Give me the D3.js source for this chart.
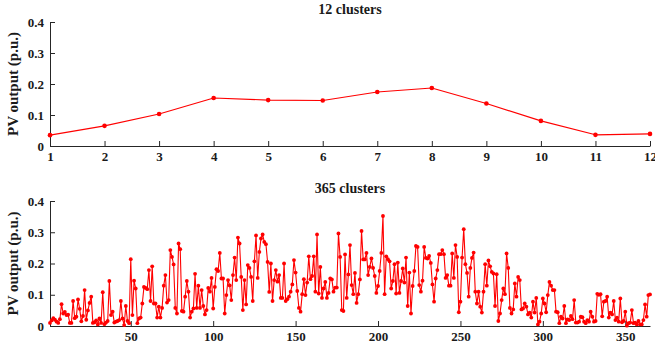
<!DOCTYPE html>
<html>
<head>
<meta charset="utf-8">
<script src="https://cdn.jsdelivr.net/npm/d3@7/dist/d3.min.js"></script>
<style>
  html, body { margin: 0; padding: 0; background: #fff; }
  svg { display: block; }
  text { font-family: "Liberation Serif", "Times New Roman", serif; font-weight: bold; fill: #1a1a1a; }
</style>
</head>
<body>
<svg id="chart" width="655" height="354"></svg>
<script>
// Monthly representative days (12 clusters)
const monthClusters = [1, 2, 3, 4, 5, 6, 7, 8, 9, 10, 11, 12];
const monthOutput = [0.035, 0.065, 0.103, 0.155, 0.148, 0.147, 0.174, 0.187, 0.137, 0.081, 0.036, 0.039];

// Daily values (365 clusters)
const dayOutput = [
  0.010, 0.018, 0.025, 0.020, 0.014, 0.010, 0.022, 0.070, 0.040, 0.045,
  0.035, 0.036, 0.010, 0.010, 0.080, 0.025, 0.030, 0.085, 0.055, 0.015,
  0.032, 0.115, 0.020, 0.050, 0.074, 0.094, 0.010, 0.012, 0.018, 0.005,
  0.024, 0.010, 0.108, 0.006, 0.011, 0.016, 0.144, 0.035, 0.046, 0.011,
  0.014, 0.016, 0.019, 0.080, 0.024, 0.003, 0.064, 0.016, 0.009, 0.214,
  0.035, 0.145, 0.120, 0.009, 0.024, 0.027, 0.072, 0.125, 0.122, 0.118,
  0.179, 0.080, 0.191, 0.072, 0.072, 0.027, 0.062, 0.027, 0.058, 0.129,
  0.163, 0.075, 0.083, 0.243, 0.221, 0.197, 0.058, 0.040, 0.264, 0.246,
  0.048, 0.046, 0.094, 0.144, 0.110, 0.027, 0.046, 0.056, 0.167, 0.058,
  0.129, 0.058, 0.115, 0.064, 0.037, 0.051, 0.122, 0.110, 0.154, 0.056,
  0.125, 0.182, 0.176, 0.234, 0.152, 0.152, 0.040, 0.099, 0.147, 0.130,
  0.083, 0.163, 0.219, 0.147, 0.283, 0.264, 0.157, 0.051, 0.147, 0.069,
  0.195, 0.186, 0.157, 0.080, 0.207, 0.290, 0.154, 0.237, 0.280, 0.293,
  0.269, 0.262, 0.205, 0.109, 0.200, 0.080, 0.147, 0.179, 0.142, 0.163,
  0.090, 0.090, 0.200, 0.080, 0.086, 0.094, 0.110, 0.133, 0.211, 0.171,
  0.112, 0.058, 0.046, 0.102, 0.150, 0.099, 0.139, 0.223, 0.150, 0.160,
  0.223, 0.110, 0.293, 0.104, 0.189, 0.090, 0.120, 0.141, 0.090, 0.106,
  0.152, 0.149, 0.110, 0.123, 0.123, 0.296, 0.221, 0.051, 0.048, 0.229,
  0.090, 0.165, 0.259, 0.131, 0.102, 0.170, 0.074, 0.102, 0.149, 0.304,
  0.213, 0.213, 0.234, 0.163, 0.189, 0.216, 0.186, 0.160, 0.106, 0.128,
  0.176, 0.234, 0.352, 0.102, 0.223, 0.214, 0.207, 0.120, 0.144, 0.198,
  0.104, 0.203, 0.106, 0.144, 0.184, 0.139, 0.219, 0.064, 0.171, 0.040,
  0.128, 0.176, 0.256, 0.253, 0.131, 0.110, 0.145, 0.253, 0.218, 0.216,
  0.224, 0.202, 0.133, 0.078, 0.152, 0.179, 0.230, 0.230, 0.243, 0.230,
  0.154, 0.163, 0.129, 0.129, 0.232, 0.154, 0.259, 0.221, 0.044, 0.078,
  0.219, 0.310, 0.198, 0.170, 0.094, 0.186, 0.218, 0.235, 0.110, 0.072,
  0.110, 0.062, 0.043, 0.110, 0.198, 0.129, 0.210, 0.191, 0.173, 0.168,
  0.064, 0.166, 0.016, 0.040, 0.083, 0.120, 0.102, 0.232, 0.186, 0.058,
  0.040, 0.053, 0.136, 0.094, 0.157, 0.147, 0.053, 0.056, 0.072, 0.062,
  0.037, 0.043, 0.027, 0.078, 0.043, 0.090, 0.005, 0.014, 0.040, 0.088,
  0.072, 0.044, 0.099, 0.141, 0.129, 0.115, 0.115, 0.046, 0.044, 0.009,
  0.030, 0.024, 0.064, 0.009, 0.021, 0.019, 0.032, 0.022, 0.083, 0.011,
  0.011, 0.014, 0.030, 0.028, 0.014, 0.009, 0.019, 0.014, 0.046, 0.030,
  0.014, 0.016, 0.103, 0.100, 0.102, 0.031, 0.078, 0.080, 0.094, 0.027,
  0.043, 0.037, 0.080, 0.019, 0.027, 0.014, 0.088, 0.012, 0.016, 0.046,
  0.001, 0.009, 0.011, 0.051, 0.009, 0.011, 0.005, 0.016, 0.005, 0.005,
  0.019, 0.069, 0.030, 0.099, 0.101
];
const dayClusters = dayOutput.map((_, i) => i + 1);

const yTicks = [0, 0.1, 0.2, 0.3, 0.4];
const dayTicks = [50, 100, 150, 200, 250, 300, 350];

const svg = d3.select("#chart");
const lineColor = "#ff0000";
const axisColor = "#262626";

function drawPanel({ top, bottom, title, xDomain, xTicks, xs, ys, markerR }) {
  const x = d3.scaleLinear().domain(xDomain).range([50, 650]);
  const y = d3.scaleLinear().domain([0, 0.4]).range([bottom, top]);
  const g = svg.append("g");

  const yAxis = g.append("g")
    .attr("transform", "translate(50,0)")
    .call(d3.axisLeft(y).tickValues(yTicks).tickFormat(d => d === 0 ? "0" : d3.format(".1f")(d))
      .tickSizeInner(-5).tickSizeOuter(0).tickPadding(6));

  const xAxis = g.append("g")
    .attr("transform", `translate(0,${bottom})`)
    .call(d3.axisBottom(x).tickValues(xTicks).tickFormat(d3.format("d"))
      .tickSizeInner(-5).tickSizeOuter(0).tickPadding(6));

  [xAxis, yAxis].forEach(a => {
    a.selectAll("path, line").attr("stroke", axisColor).attr("stroke-width", 1);
    a.selectAll("text").attr("font-size", 13).attr("font-family", "Liberation Serif").attr("font-weight", "bold").attr("fill", "#1a1a1a");
  });

  g.append("text")
    .attr("x", 350).attr("y", top - 8)
    .attr("text-anchor", "middle")
    .attr("font-size", 14)
    .text(title);

  g.append("text")
    .attr("transform", `translate(18,${(top + bottom) / 2}) rotate(-90)`)
    .attr("text-anchor", "middle")
    .attr("font-size", 15)
    .text("PV output (p.u.)");

  const pts = xs.map((v, i) => [v, ys[i]]);
  g.append("path")
    .datum(pts)
    .attr("fill", "none")
    .attr("stroke", lineColor)
    .attr("stroke-width", 1.1)
    .attr("stroke-linejoin", "round")
    .attr("d", d3.line().x(d => x(d[0])).y(d => y(d[1])));

  g.selectAll("circle.m")
    .data(pts)
    .join("circle")
    .attr("class", "m")
    .attr("cx", d => x(d[0]))
    .attr("cy", d => y(d[1]))
    .attr("r", markerR)
    .attr("fill", lineColor);
}

drawPanel({ top: 22, bottom: 146, title: "12 clusters", xDomain: [1, 12], xTicks: monthClusters,
  xs: monthClusters, ys: monthOutput, markerR: 2.3 });
drawPanel({ top: 201, bottom: 326, title: "365 clusters", xDomain: [1, 365], xTicks: dayTicks,
  xs: dayClusters, ys: dayOutput, markerR: 1.9 });
</script>
</body>
</html>
